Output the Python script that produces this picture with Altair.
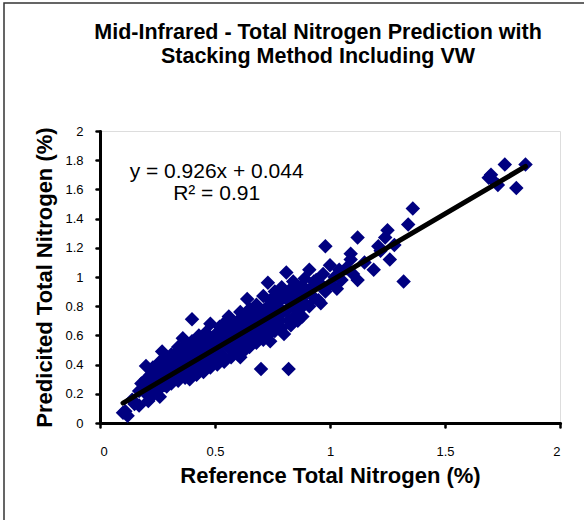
import altair as alt
import pandas as pd

# Reference (x) and predicted (y) total nitrogen, %
REF_N = [
    0.10, 0.12, 0.11, 0.14, 0.15, 0.17, 0.17, 0.18,
    0.20, 0.20, 0.20, 0.21, 0.19,
    0.22, 0.22, 0.23, 0.23, 0.24,
    0.25, 0.25, 0.26, 0.26, 0.26,
    0.27, 0.28, 0.28, 0.29, 0.29, 0.28,
    0.30, 0.30, 0.31, 0.31, 0.31, 0.32,
    0.33, 0.33, 0.34, 0.34, 0.34, 0.35,
    0.36, 0.36, 0.36, 0.37, 0.37, 0.37,
    0.38, 0.38, 0.39, 0.39, 0.39, 0.40, 0.40,
    0.41, 0.41, 0.42, 0.42, 0.42, 0.43,
    0.44, 0.44, 0.45, 0.45, 0.45, 0.46,
    0.47, 0.47, 0.48, 0.48, 0.48, 0.49,
    0.50, 0.50, 0.51, 0.51, 0.51, 0.52,
    0.53, 0.53, 0.54, 0.54, 0.55, 0.55,
    0.56, 0.56, 0.57, 0.57, 0.57, 0.58,
    0.59, 0.59, 0.60, 0.60, 0.60, 0.61,
    0.61, 0.62, 0.62, 0.63, 0.63, 0.63,
    0.64, 0.64, 0.65, 0.65, 0.65, 0.66,
    0.67, 0.67, 0.68, 0.68, 0.68, 0.69,
    0.70, 0.70, 0.70, 0.71, 0.71, 0.71,
    0.72, 0.72, 0.73, 0.73, 0.73, 0.74, 0.74,
    0.75, 0.75, 0.76, 0.76, 0.76, 0.77,
    0.78, 0.78, 0.79, 0.79, 0.79, 0.80, 0.80,
    0.81, 0.81, 0.82, 0.82, 0.82, 0.83, 0.83,
    0.84, 0.84, 0.85, 0.85, 0.86, 0.86,
    0.87, 0.87, 0.88, 0.88, 0.89, 0.89,
    0.90, 0.91, 0.91, 0.92, 0.93, 0.94,
    0.95, 0.96, 0.96, 0.97, 0.98, 0.98,
    1.00, 1.00, 1.02, 1.03, 1.04, 1.05,
    1.07, 1.09, 1.09, 1.10, 1.12, 1.12,
    1.15, 1.19, 1.21, 1.24, 1.25, 1.26, 1.28, 1.22,
    1.32, 1.34, 1.36,
    1.69, 1.70, 1.71, 1.73, 1.76, 1.81, 1.85,
    # extra points filling the dense core
    0.32, 0.35, 0.38, 0.43, 0.46, 0.49, 0.52, 0.55, 0.58, 0.61,
    0.64, 0.67, 0.70, 0.73, 0.76, 0.79, 0.82, 0.85, 0.88, 0.93,
]
PRED_N = [
    0.07, 0.05, 0.08, 0.16, 0.13, 0.12, 0.22, 0.27,
    0.39, 0.30, 0.20, 0.15, 0.24,
    0.33, 0.25, 0.19, 0.38, 0.28,
    0.36, 0.22, 0.31, 0.42, 0.18,
    0.49, 0.37, 0.26, 0.33, 0.25, 0.44,
    0.41, 0.30, 0.36, 0.47, 0.27, 0.40,
    0.45, 0.33, 0.38, 0.52, 0.29, 0.43,
    0.58, 0.47, 0.36, 0.31, 0.41, 0.53,
    0.44, 0.34, 0.50, 0.30, 0.40, 0.71, 0.56,
    0.47, 0.36, 0.53, 0.42, 0.33, 0.60,
    0.49, 0.40, 0.56, 0.35, 0.45, 0.62,
    0.52, 0.42, 0.68, 0.58, 0.38, 0.47,
    0.55, 0.44, 0.62, 0.40, 0.51, 0.66,
    0.57, 0.47, 0.64, 0.42, 0.53, 0.70,
    0.73, 0.60, 0.50, 0.45, 0.56, 0.66,
    0.63, 0.52, 0.70, 0.47, 0.58, 0.76,
    0.45, 0.66, 0.55, 0.72, 0.61, 0.50,
    0.85, 0.68, 0.58, 0.78, 0.52, 0.64,
    0.71, 0.60, 0.81, 0.55, 0.67, 0.75,
    0.37, 0.73, 0.62, 0.87, 0.57, 0.68,
    0.78, 0.65, 0.96, 0.60, 0.72, 0.84, 0.56,
    0.68, 0.77, 0.90, 0.63, 0.73, 0.82,
    0.70, 0.79, 0.93, 0.65, 0.75, 0.86, 0.61,
    1.03, 0.77, 0.37, 0.70, 0.84, 0.92, 0.67,
    0.80, 0.97, 0.74, 0.88, 0.83, 0.70,
    0.93, 0.78, 0.73, 0.86, 0.99, 0.82,
    0.90, 1.05, 0.80, 0.93, 0.86, 0.98,
    0.84, 0.82, 0.95, 1.02, 1.21, 0.90,
    1.08, 0.95, 1.00, 0.92, 1.05, 0.98,
    1.06, 1.12, 1.16, 1.02, 1.27, 0.98,
    1.10, 1.05, 1.21, 1.27, 1.32, 1.12, 1.22, 1.18,
    0.97, 1.36, 1.47,
    1.68, 1.70, 1.66, 1.63, 1.77, 1.61, 1.77,
    0.46, 0.49, 0.47, 0.51, 0.54, 0.57, 0.60, 0.62, 0.65, 0.68,
    0.71, 0.74, 0.77, 0.80, 0.83, 0.86, 0.89, 0.91, 0.94, 0.97,
]

# Trend line as reported on the chart
SLOPE = 0.926
INTERCEPT = 0.044
TREND_X = [0.10, 1.85]

X_TICKS = [0, 0.5, 1, 1.5, 2]
Y_TICKS = [0, 0.2, 0.4, 0.6, 0.8, 1, 1.2, 1.4, 1.6, 1.8, 2]

EQUATION = ["y = 0.926x + 0.044", "R\u00b2 = 0.91"]
EQ_X = [0.507, 0.507]
EQ_Y = [1.72, 1.57]

TITLE_1 = "Mid-Infrared - Total Nitrogen Prediction with"
TITLE_2 = "Stacking Method Including VW"
FONT = "Liberation Sans"

pts = pd.DataFrame({"ref": REF_N, "pred": PRED_N})
trend = pd.DataFrame({"ref": TREND_X, "pred": [SLOPE * v + INTERCEPT for v in TREND_X]})
eq = pd.DataFrame({"ref": EQ_X, "pred": EQ_Y, "txt": EQUATION})
one = pd.DataFrame({"k": [0]})

xscale = alt.Scale(domain=[0, 2], nice=False, zero=True)
yscale = alt.Scale(domain=[0, 2], nice=False, zero=True)

xaxis = alt.Axis(
    values=X_TICKS, format="~g", grid=False, labelOverlap=False,
    domainColor="#000", domainWidth=3, domainCap="round",
    tickColor="#000", tickWidth=2.5, tickSize=4, tickCap="round",
    labelFont=FONT, labelFontSize=13, labelColor="#000", labelPadding=18,
    title="Reference Total Nitrogen (%)", titleFont=FONT, titleFontSize=22,
    titleFontWeight="bold", titleColor="#000", titlePadding=7,
)
yaxis = alt.Axis(
    values=Y_TICKS, format="~g", grid=False, labelOverlap=False,
    domainColor="#000", domainWidth=3, domainCap="round",
    tickColor="#000", tickWidth=2.5, tickSize=4, tickCap="round",
    labelFont=FONT, labelFontSize=13, labelColor="#000", labelPadding=13,
    title="Predicited Total Nitrogen (%)", titleFont=FONT, titleFontSize=22,
    titleFontWeight="bold", titleColor="#000", titlePadding=8,
)

X = alt.X("ref:Q", scale=xscale, axis=xaxis)
Y = alt.Y("pred:Q", scale=yscale, axis=yaxis)

points = alt.Chart(pts).mark_point(
    shape="diamond", filled=True, size=210, color="#000080", opacity=1
).encode(x=X, y=Y)

line = alt.Chart(trend).mark_line(
    color="#000", strokeWidth=5, strokeCap="round"
).encode(x=X, y=Y)

text = alt.Chart(eq).mark_text(
    font=FONT, fontSize=21, color="#000", align="center", baseline="middle"
).encode(x=X, y=Y, text="txt:N")

title_style = dict(font=FONT, fontSize=21.5, fontWeight="bold", color="#000",
                   align="center", baseline="middle", clip=False)
title1 = alt.Chart(one).mark_text(text=TITLE_1, **title_style).encode(
    x=alt.value(218), y=alt.value(-98))
title2 = alt.Chart(one).mark_text(text=TITLE_2, **title_style).encode(
    x=alt.value(218), y=alt.value(-74))

frame = alt.Chart(one).mark_rect(
    fill=None, stroke="#333", strokeWidth=1.5, clip=False
).encode(
    x=alt.value(-96), x2=alt.value(490), y=alt.value(-128), y2=alt.value(395)
)

chart = alt.layer(frame, title1, title2, points, line, text).properties(
    width=460,
    height=292,
    padding={"left": 100, "top": 131, "right": 24, "bottom": 97},
    autosize=alt.AutoSizeParams(type="none"),
).configure_view(stroke=None).configure_axis(labelOverlap=False).configure(background="white")

chart.save("out.html", embed_options={"renderer": "svg", "actions": False})
